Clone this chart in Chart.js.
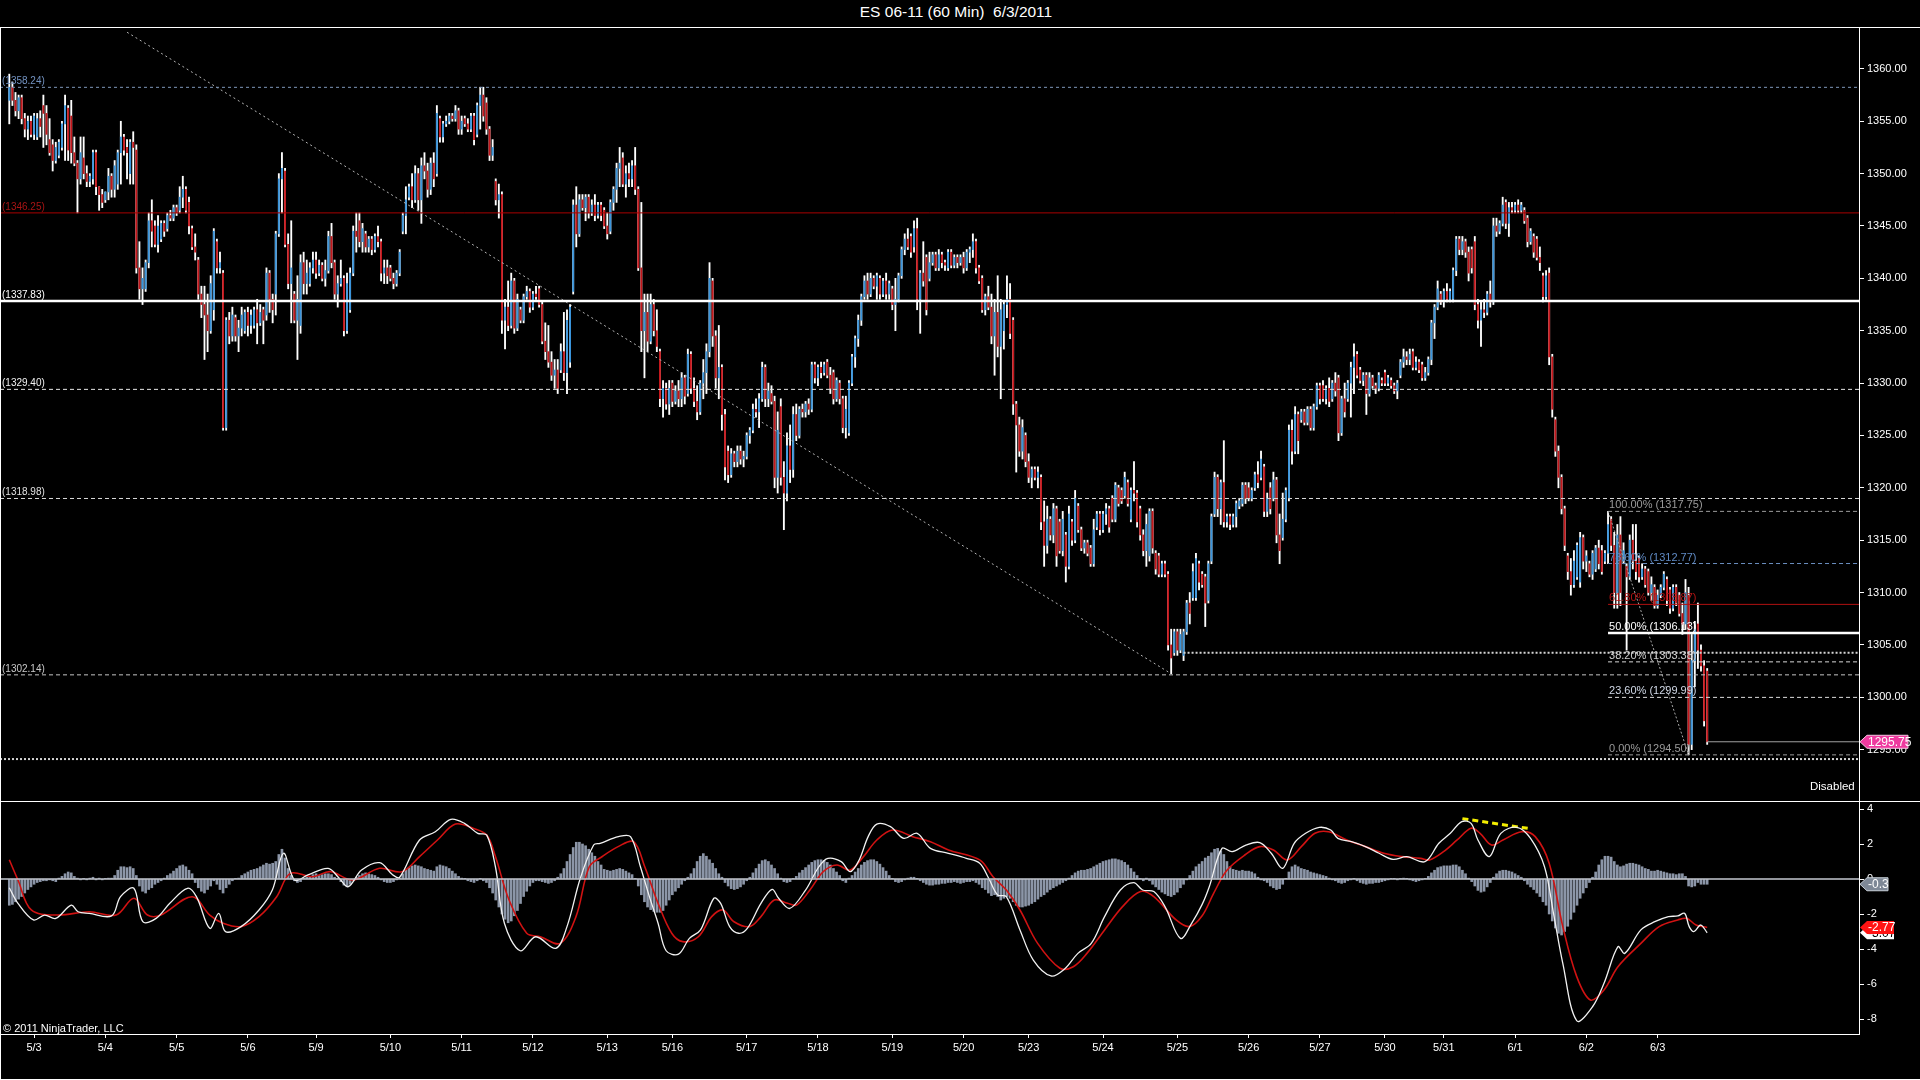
<!DOCTYPE html>
<html><head><meta charset="utf-8">
<script src="https://cdn.jsdelivr.net/npm/chart.js@4.4.1/dist/chart.umd.min.js"></script>
<style>
html,body{margin:0;padding:0;background:#000;width:1920px;height:1080px;overflow:hidden;font-family:"Liberation Sans",Arial,sans-serif;}
#title{position:absolute;left:0;top:3px;width:1912px;text-align:center;color:#fff;font-size:15.5px;line-height:18px;white-space:pre;}
.hl{position:absolute;left:0;width:1920px;height:1px;background:#fff;z-index:5;}
.vl{position:absolute;left:0;top:27px;width:1px;height:1053px;background:#fff;z-index:5;}
#priceWrap{position:absolute;left:0;top:27px;width:1920px;height:775px;}
#macdWrap{position:absolute;left:0;top:802px;width:1920px;height:278px;}
canvas{display:block}
#disabled{position:absolute;left:1810px;top:779px;color:#fff;font-size:11.5px;line-height:14px;z-index:6;}
#copy{position:absolute;left:3px;top:1021px;color:#fff;font-size:11px;line-height:14px;z-index:6;}
</style></head>
<body>
<div id="title">ES 06-11 (60 Min)  6/3/2011</div>
<div id="priceWrap"><canvas id="price" width="1920" height="775"></canvas></div>
<div id="macdWrap"><canvas id="macd" width="1920" height="278"></canvas></div>
<div class="hl" style="top:27px"></div>
<div class="hl" style="top:801px"></div>
<div class="hl" style="top:1079px"></div>
<div class="vl"></div>
<div id="disabled">Disabled</div>
<div id="copy">© 2011 NinjaTrader, LLC</div>
<script>
// ---------------- DATA ----------------
const firstBar = 3; // bar index of the first hourly bar
const dayLabels = ['5/3','5/4','5/5','5/6','5/9','5/10','5/11','5/12','5/13','5/16','5/17','5/18','5/19','5/20','5/23','5/24','5/25','5/26','5/27','5/30','5/31','6/1','6/2','6/3'];
const dayFirstBar = [11,34,57,80,102,126,149,172,196,217,241,264,288,311,332,356,380,403,426,447,466,489,512,535];
const priceTicks = [1295,1300,1305,1310,1315,1320,1325,1330,1335,1340,1345,1350,1355,1360];
const macdTicks = [4,2,0,-2,-4,-6,-8];

const barOpen = [
1357,1358.25,1357,1356,1357.25,1355.25,1354.25,1355,1353.75,1353.5,
1355.25,1356.5,1355.75,1353.25,1352.75,1351.25,1351.75,1352.5,1354.75,1356.25,
1355.5,1352,1351,1349.5,1351.5,1350,1349.25,1349.5,1352,1348.75,
1348,1347.5,1348.25,1349.75,1348.5,1349,1352,1353.5,1352.5,1350,
1353,1352.25,1341,1339,1339,1341.5,1345.5,1345,1343.25,1343.75,
1345.25,1344.75,1346,1345.75,1346.75,1346.5,1347.75,1348.5,1347.25,1344.75,
1343,1341.75,1338.5,1337.5,1336.5,1335,1337,1343.5,1341,1340.5,
1325.75,1336,1334.5,1336.25,1334.5,1335.25,1335,1336.75,1335.5,1335.5,
1337,1335.75,1337,1336.5,1340.5,1338,1338.5,1344.25,1349.5,1350.25,
1343.25,1339.5,1338.5,1336,1335.5,1341.5,1339.5,1339.5,1341,1341.75,
1340.5,1341.25,1340,1340.75,1344,1341.5,1338.5,1339.5,1340,1335,
1337,1340.5,1344.5,1345.5,1343.5,1344.25,1343,1343.75,1342.75,1344,
1343.5,1340.5,1341,1341,1340,1339.5,1340.5,1344.5,1346,1347.75,
1348.75,1347.5,1350,1347.5,1350.75,1350.25,1348.5,1351,1350,1355.25,
1353.5,1354.75,1355,1355.5,1355.25,1356,1354.25,1355.25,1354.75,1354.25,
1355.5,1353.75,1356.5,1357.5,1356.75,1354.25,1351.75,1349.25,1347.5,1348,
1336,1337.25,1335.5,1339.75,1335.25,1337,1336,1338.25,1338.75,1337.25,
1338.5,1339,1337.5,1334,1333,1332,1330.75,1331.25,1331.25,1333,
1331,1332,1338.75,1347,1344.25,1347.5,1346.75,1347.75,1346.25,1347,
1346,1347,1346.5,1345,1344.5,1347.25,1348.5,1350.5,1351.5,1349,
1350,1349.5,1350.75,1348.5,1341,1335,1336.75,1334,1337.5,1335,
1333,1328.5,1329.5,1328,1330,1328.25,1329.25,1328.5,1330.5,1329,
1332.75,1329.5,1328.25,1327.25,1330,1331,1333,1339.75,1334.5,1330.5,
1331.5,1327,1323.5,1321.25,1323.25,1322.5,1323.5,1322.75,1323,1325,
1325.5,1327.5,1327.25,1328.5,1331.5,1328.5,1329,1328.25,1321,1327.75,
1321,1319.5,1324,1321.75,1327,1325,1327.5,1327.25,1328,1327.5,
1331.75,1330.5,1331.5,1331,1332,1330.75,1331,1328.5,1330,1328.5,
1325.75,1325.25,1330,1332.5,1334.25,1336,1338.25,1339.75,1338.5,1340,
1339.25,1340,1338.5,1339.75,1338.5,1339,1337.5,1338,1340.25,1342.75,
1343.75,1344,1343,1344.75,1338,1340.5,1342,1340,1341.5,1342.25,
1341,1342.25,1341.5,1341,1342.5,1341.25,1342,1341.5,1342,1341,
1342.5,1342.75,1343.5,1341,1340,1337,1338.25,1337.25,1334.5,1336.75,
1333.5,1335,1337.5,1338,1336,1328,1326,1323.5,1325,1322.5,
1321,1321.75,1321,1321,1316.75,1314.5,1317,1315.5,1318,1316.75,
1314,1315.5,1312.5,1316.75,1315,1318.25,1316,1314.25,1314.75,1314.25,
1312.75,1316.25,1317.5,1316,1317.5,1318,1319,1317,1320,1319.75,
1319.25,1320.5,1317,1319.75,1319.5,1318,1315.5,1314,1313.5,1317.75,
1313.75,1313.5,1311.75,1312.75,1311.75,1305,1304.25,1306.25,1304.5,1304,
1306.25,1309,1309.5,1309.5,1312.75,1311.75,1311.5,1309.25,1313,1317.5,
1321,1318,1320.5,1316.75,1317.25,1316.5,1317.25,1318.25,1318.5,1320.25,
1320,1319,1320,1321.25,1321,1322,1317.75,1320,1319,1320.75,
1315.5,1315.25,1317,1319,1325.5,1323.5,1327,1326.5,1327.25,1326.25,
1327.5,1325.75,1327.75,1329.75,1329.75,1328.5,1329.5,1328.5,1330,1330.5,
1325.25,1328.5,1328.5,1330,1331.5,1332.75,1331.25,1330.25,1330.75,1329,
1330.5,1329.75,1329.5,1330.25,1331,1330,1330.25,1329.75,1329.25,1330.75,
1332,1332.5,1332.25,1333,1331.5,1332,1331.75,1330.5,1331,1332.25,
1335.75,1337.25,1338.5,1337.75,1338.75,1338,1338,1340.75,1343.75,1342.75,
1343.5,1342.5,1342.75,1343.5,1337.5,1336,1337,1336.75,1338.5,1337.75,
1345,1344.5,1345.25,1347.25,1345.25,1346.75,1346.5,1347,1346.5,1346.5,
1345.75,1343.5,1344,1343.75,1342,1340.25,1338.25,1340.5,1332.5,1326.5,
1323.5,1321,1318,1313.5,1312,1310.75,1311.5,1311,1315.25,1313,
1312.75,1311.75,1312.25,1314.25,1314,1313,1313.75,1317,1314.5,1310,
1315.5,1313,1312.5,1311.5,1315,1313,1313.25,1311.5,1312.25,1312,
1310,1310.5,1308.75,1309.75,1310.5,1311.25,1310.25,1308.5,1310.5,1309.75,
1308,1307,1309.75,1295.5,1303.5,1307,1304.5,1303,1302.5
];
const barHigh = [
1359.5,1358.75,1357.75,1357.5,1357.5,1355.75,1355.5,1355.5,1355.75,1355.75,
1356,1357.5,1356.5,1355.25,1353.25,1353,1353.25,1355,1357.5,1356.5,
1357,1353.5,1351.25,1353.5,1353.5,1350.75,1350,1352.25,1352.25,1348.75,
1348.5,1348.25,1350.5,1350,1351.25,1352.25,1355,1353.75,1353.25,1353.25,
1354,1352.75,1343.5,1341,1341.75,1346.25,1347.5,1345.5,1346,1345.5,
1345.5,1346.25,1346.5,1347,1347,1348.75,1349.75,1348.75,1347.75,1345,
1344.25,1342,1339.25,1339.25,1338.5,1340.25,1344.75,1343.75,1342.5,1340.75,
1336.25,1336.75,1337.25,1336.5,1336,1337.25,1337,1337.25,1337,1337.25,
1338,1337.5,1337.25,1341,1340.75,1338.5,1344.5,1350,1352,1350.5,
1344.25,1345.5,1338.75,1340.25,1342.25,1342.5,1341.75,1341.5,1342.5,1342.5,
1341.75,1341.5,1341.75,1344.5,1345.25,1341.75,1340.25,1341.75,1340.25,1340.5,
1341,1345,1346.25,1346.25,1345.25,1344.5,1344,1344,1344.25,1345,
1343.75,1341.75,1341.75,1341.25,1340.5,1340.75,1342.75,1346.25,1348.75,1349,
1350,1350.75,1350.5,1351.5,1352,1351,1351.5,1352,1356.5,1355.5,
1355,1355.5,1355.75,1355.75,1356.5,1356.25,1355.5,1355.5,1355.25,1355.75,
1355.75,1356.75,1358.25,1358.25,1357.25,1354.5,1353.25,1349.5,1349,1348.25,
1338,1339.75,1340.5,1340,1338.5,1337.25,1338.5,1339.25,1339,1338.75,
1339.25,1339.25,1337.75,1335.75,1335.5,1333,1332.25,1332.25,1333.75,1336.75,
1337,1337.5,1347.5,1348.75,1348,1348,1348,1348,1347.5,1348,
1347.25,1347.25,1346.75,1346.25,1347.5,1348.75,1351,1352.5,1352,1350.75,
1351,1351.25,1352.5,1348.75,1347.25,1338.5,1338.5,1338.5,1338,1337,
1333.25,1330.25,1330,1330.25,1330.25,1329.75,1330.25,1331,1330.75,1333.25,
1333,1330.5,1329.75,1330.25,1332.25,1333.75,1341.5,1340,1335,1335.5,
1331.75,1327.5,1324,1323.75,1323.5,1324,1324,1323.5,1325.25,1325.75,
1328,1328.5,1329,1332,1331.75,1330,1329.75,1328.75,1327.25,1328.5,
1322.5,1325.25,1326,1327.75,1328,1327.75,1328,1328.25,1328.5,1332,
1332,1331.75,1332,1332,1332.25,1331.5,1331.25,1330.5,1330.25,1328.75,
1328.75,1330.25,1332.75,1334.5,1336.5,1338.5,1340.25,1340.5,1340.5,1340.25,
1340.5,1340.25,1340,1340.5,1339.75,1339.25,1340,1340.5,1343,1344.25,
1344.75,1344.25,1345.5,1345.75,1340.75,1343.5,1342.25,1342.5,1342.5,1342.5,
1342.75,1342.5,1341.75,1342.75,1342.75,1342.25,1342.25,1342.25,1342.5,1342.75,
1343,1344.25,1343.75,1341.25,1340.25,1338.5,1339.25,1338.5,1338,1340.25,
1338,1337.75,1340.25,1339.5,1336.25,1328.25,1326.75,1326.5,1325.25,1323.25,
1322,1322,1322,1321.25,1318.75,1318.25,1317.25,1318.5,1318.25,1317,
1317.75,1315.75,1318.25,1317,1319.75,1318.5,1316.25,1315,1315,1314.5,
1317,1317.75,1317.75,1317.75,1318.5,1318.25,1319.25,1320.5,1320.25,1320,
1321.5,1320.75,1320,1322.5,1319.75,1318.25,1316,1317.5,1318,1318,
1314,1313.75,1313,1313,1312,1306.5,1306.5,1306.5,1306.5,1306.5,
1309.25,1310,1312.75,1313.75,1313,1312,1311.75,1313,1317.5,1321.5,
1321.25,1320.75,1324.5,1317.5,1317.5,1317.5,1318.75,1319,1320.5,1320.5,
1320.5,1320,1321.5,1322.5,1323.5,1322.25,1319.5,1320.5,1321.5,1321,
1317.5,1319.5,1320,1326,1326.5,1327.75,1327.25,1327.5,1327.5,1327.75,
1327.75,1328,1330,1330,1330.25,1329.75,1330.5,1330.25,1331,1330.75,
1328.75,1330,1330.25,1332,1333.75,1333,1331.5,1331,1331,1331,
1330.75,1330,1331,1330.5,1331.25,1330.75,1330.5,1330,1330.25,1332.25,
1333.25,1333,1333.25,1333.25,1332.5,1332.25,1332,1331.5,1332.5,1336,
1337.5,1339.75,1338.75,1339,1339.5,1339,1341,1344,1344,1344,
1343.75,1343,1343,1344,1338,1337.75,1338,1338.75,1339.75,1345.75,
1345.75,1345.5,1347.75,1347.5,1347.25,1347.25,1347.25,1347.5,1347.25,1346.75,
1346,1344.75,1344.25,1344,1343,1340.5,1340.75,1341,1332.75,1326.75,
1324,1321.25,1318.25,1313.75,1313.25,1314,1314.75,1315.75,1315.5,1314,
1313,1314,1314.5,1315,1314.5,1314,1317.75,1317.25,1315.75,1316.5,
1317.25,1314.75,1312.75,1315.5,1316.5,1316.5,1313.5,1312.75,1312.5,1312.25,
1311.5,1310.75,1310.25,1310.75,1312,1311.5,1310.5,1310.75,1310.75,1310,
1309,1311.25,1310.5,1306,1307.25,1309,1305,1303.5,1302.75
];
const barLow = [
1354.75,1356.5,1355.5,1355.25,1354.75,1353.5,1353.25,1353.5,1353.25,1353.25,
1353.5,1352.5,1352.75,1351.75,1350.25,1351,1351.5,1352.25,1351.25,1351.25,
1351,1350.75,1346.25,1349,1349.5,1348.75,1348.75,1349,1348,1346.5,
1346.75,1347.25,1347.5,1347.75,1347.75,1348.5,1349,1351.75,1349.5,1349,
1349,1340.5,1338,1337.5,1338.75,1341,1343,1343,1342.5,1343.5,
1344,1344.5,1345.5,1345.5,1346,1346.25,1346.75,1346.25,1344.25,1342.75,
1341.75,1338,1336.25,1332.25,1333,1334.75,1336,1340.5,1340.5,1325.5,
1325.5,1333.75,1334,1334,1333,1334.5,1334.75,1334.5,1334.75,1335.25,
1333.75,1335.5,1333.75,1336,1336.75,1335.75,1336.5,1344,1346.25,1343,
1339,1335.75,1335.75,1332.25,1334.75,1338.5,1338.5,1339.25,1340.5,1340,
1340.25,1339.75,1339.25,1340.5,1341,1338,1337.25,1339.25,1334.5,1334.75,
1336.75,1340.25,1342.5,1343,1342.5,1342.5,1342.5,1342.25,1342.5,1343,
1339.75,1339.5,1339.5,1339.75,1339,1339.25,1340.25,1344.25,1344.25,1347.5,
1346.75,1347.25,1346.5,1345.25,1349.5,1347.75,1348,1348.75,1349.75,1353,
1353,1354.5,1354.75,1355,1355,1353.75,1353.75,1354.5,1354,1354,
1352.75,1353.5,1354.25,1355,1353.75,1351.25,1351.25,1347,1345.75,1334.75,
1333.25,1335,1335.25,1334.75,1335,1335.75,1335.75,1338,1336.75,1337,
1338,1337.25,1333.75,1332.25,1331.5,1330.25,1329.5,1329,1331,1330.25,
1329,1331.5,1338.5,1343,1344,1346.5,1345.5,1345.75,1346,1345.5,
1345.75,1345.5,1344.75,1343.75,1344.25,1346.5,1347.25,1348.75,1348.75,1347.75,
1348.75,1348.75,1348,1340.75,1333,1330.5,1333,1333.75,1334.5,1333,
1327.75,1326.75,1327.5,1327,1327.75,1328,1327.75,1327.75,1328,1328.75,
1329,1327.75,1326.5,1327,1328.5,1329,1332.5,1333.5,1329.5,1328.5,
1325.5,1320.75,1320.5,1321,1322,1322,1322.25,1322,1322.75,1324.25,
1325.25,1326.75,1325.75,1328.25,1327.75,1327.75,1328,1320,1319.5,1320.25,
1316,1318.75,1320.5,1321,1324.5,1324.75,1326.75,1326.75,1327,1327.25,
1330,1329.75,1330.5,1330.75,1330.5,1329,1328,1328.25,1328,1325.25,
1324.75,1325,1329.75,1331.5,1333.5,1335.5,1338,1338,1338.25,1339,
1338,1338,1338.25,1338,1338,1337,1335,1337.75,1340,1342.25,
1342.75,1342,1342.5,1337,1334.75,1339.25,1336.5,1339.75,1341.25,1340.75,
1340.75,1341,1340.75,1340.75,1341,1341,1341,1341.25,1340.5,1340.75,
1341.5,1342,1340.5,1339.5,1336.75,1336.5,1337,1333.75,1330.75,1332.5,
1328.5,1333.25,1336.25,1334.25,1327,1321.5,1323,1322.75,1322,1320.5,
1320,1320.75,1320,1316,1312.5,1313.75,1315,1314.75,1312.5,1313.75,
1313.5,1311,1312.25,1314.5,1314.75,1315.75,1314,1313.75,1313.5,1312.5,
1312.5,1316,1315.5,1315.75,1316.5,1315.75,1316.75,1316.75,1318.25,1318.5,
1319,1318.25,1316.75,1318.75,1316.25,1315,1313.5,1312.5,1313,1313.75,
1311.75,1311.5,1311.5,1311.5,1304.5,1302.25,1304,1304,1304.25,1303.5,
1306,1307,1309.25,1309.25,1310.25,1310.5,1306.75,1309,1312.75,1317.25,
1317.25,1316.5,1316.25,1316.25,1316,1316.25,1316.25,1318,1318.25,1318.5,
1318.75,1318.75,1319.75,1320,1320.75,1317.25,1317.25,1317.5,1318.75,1314.75,
1312.75,1315,1316.75,1318.75,1322.25,1323.25,1323.25,1326.25,1326,1326,
1325.5,1325.5,1327.5,1328,1328.25,1328,1327.75,1328.25,1328.75,1324.5,
1325,1326.75,1328.25,1326.75,1329,1330.5,1330,1329.75,1327,1328.75,
1329.5,1329,1329.25,1329.75,1329.75,1329.75,1329.5,1329,1328.5,1330.5,
1331.5,1331.75,1331.75,1331.25,1331.25,1331,1330.25,1330.25,1330.75,1331.75,
1334.25,1337,1337.5,1337.25,1337.75,1337.75,1337.75,1340.25,1342.25,1342.25,
1342,1339.75,1340.5,1337,1335.25,1333.5,1336.25,1336.5,1337.25,1337.5,
1344,1344.25,1345,1344.75,1344,1346.25,1346.25,1346.25,1346.25,1345.25,
1343,1343.25,1342,1341.75,1340.75,1337.75,1338,1331.75,1326.75,1323,
1320,1317.5,1314,1311.25,1309.75,1310.5,1311.25,1310.5,1312.25,1312,
1311.5,1311.25,1312,1312.25,1311.75,1312.75,1312.75,1314,1308.5,1308.5,
1308.75,1312.75,1304.5,1311.25,1312.25,1311.25,1311,1311.25,1310.5,1309.75,
1309.25,1308.5,1308.5,1309.5,1310.25,1308.75,1308,1308.25,1308.75,1307.75,
1306,1306.5,1294.5,1295,1301,1302.75,1302.5,1297.25,1295.5
];
const barClose = [
1358.25,1357,1356,1357.25,1355.25,1354.25,1355,1353.75,1355.5,1355.25,
1354.5,1355.75,1353.75,1352,1351.25,1352.5,1353,1354.75,1356.5,1352.25,
1352,1351,1349.5,1352,1350,1349.25,1349.75,1352,1348.75,1348,
1347.25,1348.25,1349.75,1348.5,1350.75,1352,1353.5,1352.25,1352,1353,
1352.5,1341,1339,1340,1341.5,1345.5,1344.5,1343.25,1345,1345.25,
1344.5,1346,1345.75,1346.75,1346.25,1347.75,1348.5,1346.5,1345,1343,
1342.5,1338.5,1337.5,1336.5,1335,1339.5,1344.5,1341,1341.5,1325.75,
1336,1334.5,1336.5,1334.5,1335.25,1336.5,1336.75,1335.5,1336.5,1337,
1335.75,1336.75,1336,1340.5,1338,1337,1344.25,1349.5,1350.5,1343.25,
1339.5,1341,1336,1338,1341.5,1339.5,1340.5,1341,1341.75,1340.5,
1341.25,1340,1340.75,1344,1341.5,1338.5,1339.5,1340,1335,1339.5,
1340.5,1344.5,1344,1343.5,1344.75,1343,1343.75,1342.75,1344,1343.5,
1340.5,1341,1340.25,1340,1339.5,1340.5,1342.5,1346,1347.5,1348.75,
1347.5,1350,1347.5,1350.75,1350.25,1348.5,1351,1349.5,1355.75,1353.5,
1354.75,1355,1355.5,1355.25,1356,1354.25,1355,1354.75,1354.25,1355.5,
1353.25,1356.5,1357.5,1355.5,1354.25,1351.75,1352.5,1347.5,1348,1336,
1337.25,1335.5,1339.75,1335.25,1338,1336,1338.25,1338.75,1337.25,1338.5,
1338.25,1337.5,1334,1333,1332,1330.75,1331.25,1329.5,1333,1331,
1336,1337.25,1347,1344.25,1347.5,1346.75,1347.75,1346.25,1347,1346,
1347,1346,1345,1344.25,1347.25,1348.5,1350.5,1351,1349,1350,
1349.5,1350.75,1348.5,1341,1335,1336.75,1334,1337.5,1335,1333.5,
1328.5,1329.5,1328,1329.5,1328.25,1329.25,1328.5,1330.5,1328.75,1332.75,
1329.5,1328.25,1327.25,1330,1331,1333,1340,1334.5,1330.5,1331.5,
1327,1322,1321.25,1323.25,1322.5,1323.5,1322.75,1323,1325,1325.5,
1327.5,1327.25,1328.5,1331.5,1328.5,1329.25,1328.25,1321,1325.5,1321,
1319.5,1324,1321.75,1327,1325,1327.5,1327.25,1328,1327.5,1331.75,
1330.5,1331.5,1331,1331.75,1330.75,1329.5,1328.5,1330.25,1328.5,1325.75,
1327.5,1330,1332.5,1334.25,1336,1338.25,1339.75,1338.5,1340,1339.25,
1340.25,1338.5,1339.75,1338.5,1339.5,1337.5,1338,1340.25,1342.75,1343.75,
1343,1342.5,1344.75,1338,1340.5,1339.75,1337,1341.5,1342.25,1341,
1342.25,1341.5,1341.25,1342.5,1341.25,1342,1341.5,1342,1341,1342.5,
1342.75,1343.5,1341,1339.75,1337,1338.25,1337.25,1334.5,1336.75,1333.5,
1337,1337.5,1338,1334.75,1328,1326,1323.5,1325.75,1322.5,1321,
1321.75,1321,1321.5,1316.75,1314.5,1317,1315.5,1318,1313.5,1314,
1317,1312.5,1317.5,1315,1319,1316,1314.25,1314.75,1313.75,1312.75,
1316,1317.5,1316,1317.5,1318,1316.25,1317,1320.25,1318.5,1318.75,
1321,1318.5,1319.75,1319.5,1316.75,1315.5,1314,1316.5,1317.75,1314.25,
1312.25,1311.75,1312.75,1311.75,1305,1303.75,1306.25,1304.5,1306,1306.25,
1309,1308,1312,1313.25,1311,1310.75,1309,1312.75,1317.25,1321,
1318,1320.5,1316.75,1317.25,1316.5,1317.25,1318.5,1318.75,1320.25,1319,
1319,1319.75,1321.25,1320.5,1322.75,1317.75,1319,1318,1320.75,1315.5,
1314,1317,1319.75,1325.5,1323.5,1327,1324.5,1327.25,1326.25,1327.5,
1325.75,1327.75,1329.75,1328.5,1328.5,1329.5,1328.25,1330,1329.25,1325.25,
1328.5,1327.25,1330,1331.5,1332.5,1330.75,1330.25,1330.75,1329,1330.5,
1329.75,1329.5,1330.75,1330,1330,1330.5,1329.75,1329.25,1330,1332,
1332.5,1332.25,1332.75,1331.5,1332,1331.25,1330.5,1331,1332.25,1335.75,
1337.25,1339,1337.75,1338.75,1338,1338.75,1340.75,1343.75,1342.75,1343.5,
1342.5,1340.5,1341,1337.5,1336,1337,1336.75,1338.5,1337.75,1345,
1344.5,1345.25,1347,1345.25,1346.75,1346.5,1347,1346.5,1347,1345.5,
1343.5,1344.5,1342.5,1342,1341.5,1338.25,1340.25,1332.5,1327.5,1323.5,
1321,1318,1314.5,1312,1310.75,1313,1314.5,1315.25,1313,1313.5,
1311.75,1313.75,1314.25,1312.75,1312,1313.75,1316.5,1314.5,1310,1315.5,
1310,1314,1311.5,1315,1313,1312,1311.5,1312.25,1310.75,1310,
1310.75,1308.75,1309.75,1310.5,1311.75,1309.25,1308.5,1310.5,1309,1308,
1307,1310,1295.5,1303.5,1306.5,1304.5,1303,1297.75,1295.75
];

// horizontal price levels drawn on the chart
const levelValues = [1358.24, 1346.25, 1337.83, 1329.40, 1318.98, 1302.14];
const dottedLevels = [1294.10, 1304.25];
const dottedStartBar = [0, 382];
// trend line (bar index / price)
const trendX = [41, 378];
const trendY = [1363.5, 1302.25];
// Fibonacci retracement
const fibStartBar = 519, fibEndBar = 545;
const fibPercents = ['100.00%','78.60%','61.80%','50.00%','38.20%','23.60%','0.00%'];
const fibValues = [1317.75, 1312.77, 1308.87, 1306.13, 1303.38, 1299.99, 1294.50];
const lastPrice = 1295.75;

// MACD panel
const histValues = [
-1.5,-1.45,-1.3,-1.15,-1.0,-0.8,-0.6,-0.45,-0.3,-0.2,
-0.15,-0.1,-0.1,-0.05,-0.1,-0.15,0.05,0.15,0.3,0.4,
0.35,0.15,0.05,-0.05,0.02,-0.05,0.05,0.1,-0.05,0.05,
-0.05,0.02,0.05,0.05,0.2,0.5,0.7,0.7,0.65,0.7,
0.6,0.2,-0.4,-0.7,-0.8,-0.6,-0.5,-0.3,-0.2,-0.1,
0.05,0.2,0.3,0.45,0.6,0.75,0.8,0.7,0.5,0.3,
-0.2,-0.5,-0.7,-0.8,-0.6,-0.4,-0.1,-0.3,-0.6,-0.8,
-0.5,-0.3,-0.1,0.02,0.05,0.2,0.3,0.4,0.5,0.55,
0.6,0.7,0.8,0.9,0.85,0.9,1.0,1.4,1.7,1.2,
0.6,0.2,-0.1,-0.2,-0.15,0.02,0.1,0.15,0.25,0.3,
0.2,0.25,0.3,0.3,0.25,0.1,0.02,-0.15,-0.35,-0.45,
-0.3,-0.1,0.1,0.2,0.3,0.35,0.3,0.25,0.2,0.1,
-0.05,-0.15,-0.2,-0.2,-0.15,-0.05,0.05,0.3,0.5,0.65,
0.75,0.8,0.75,0.7,0.6,0.55,0.5,0.45,0.7,0.8,
0.75,0.7,0.6,0.45,0.3,0.15,0.05,0.02,-0.1,-0.15,
-0.2,-0.1,0.02,-0.1,-0.2,-0.5,-0.8,-1.2,-1.6,-2.0,
-2.3,-2.5,-2.4,-2.1,-1.8,-1.4,-1.0,-0.7,-0.4,-0.2,
-0.1,-0.1,-0.15,-0.2,-0.25,-0.2,-0.1,0.1,0.3,0.6,
1.0,1.4,1.8,2.1,2.1,2.0,1.9,1.7,1.5,1.3,
1.0,0.8,0.55,0.5,0.45,0.5,0.55,0.6,0.55,0.45,
0.35,0.25,0.02,-0.4,-0.9,-1.3,-1.6,-1.75,-1.85,-1.9,
-1.9,-1.8,-1.5,-1.2,-0.9,-0.7,-0.5,-0.3,-0.1,0.1,
0.3,0.6,1.0,1.3,1.45,1.3,1.1,0.9,0.6,0.3,
0.1,-0.2,-0.4,-0.55,-0.6,-0.55,-0.45,-0.3,-0.1,0.1,
0.35,0.6,0.85,1.05,1.1,1.0,0.8,0.6,0.3,0.05,
-0.15,-0.2,-0.15,0.02,0.15,0.35,0.5,0.65,0.8,0.95,
1.05,1.1,1.1,1.05,0.95,0.8,0.6,0.4,0.2,-0.1,
-0.2,0.05,0.2,0.4,0.6,0.8,0.95,1.05,1.1,1.1,
1.0,0.85,0.65,0.45,0.2,0.02,-0.15,-0.2,-0.15,-0.05,
0.05,0.1,0.1,0.02,-0.1,-0.2,-0.3,-0.35,-0.35,-0.3,
-0.3,-0.25,-0.25,-0.2,-0.2,-0.15,-0.2,-0.25,-0.2,-0.15,
-0.15,-0.1,-0.2,-0.3,-0.5,-0.6,-0.8,-0.95,-0.9,-1.0,
-1.2,-1.1,-1.0,-1.1,-1.3,-1.5,-1.6,-1.6,-1.55,-1.5,
-1.4,-1.3,-1.15,-1.0,-0.9,-0.75,-0.6,-0.5,-0.4,-0.3,
-0.2,-0.1,0.05,0.2,0.35,0.45,0.5,0.5,0.55,0.6,
0.7,0.8,0.9,1.0,1.05,1.1,1.15,1.15,1.1,1.05,
0.95,0.8,0.6,0.4,0.2,0.02,-0.1,0.05,-0.1,-0.3,
-0.45,-0.6,-0.75,-0.85,-0.95,-1.0,-0.9,-0.75,-0.5,-0.3,
-0.05,0.2,0.45,0.7,0.85,1.0,1.2,1.3,1.5,1.7,
1.75,1.6,1.4,1.0,0.7,0.55,0.5,0.45,0.5,0.45,
0.45,0.4,0.3,0.1,-0.05,-0.1,-0.2,-0.4,-0.5,-0.6,
-0.55,-0.3,0.02,0.4,0.7,0.8,0.7,0.6,0.55,0.5,
0.4,0.35,0.3,0.25,0.2,0.15,0.05,-0.05,-0.1,-0.2,
-0.25,-0.2,-0.1,-0.05,0.02,-0.1,-0.2,-0.25,-0.3,-0.25,
-0.25,-0.2,-0.2,-0.15,-0.1,-0.05,0.02,0.02,-0.05,0.02,
0.05,0.02,-0.05,-0.1,-0.15,-0.1,-0.05,0.02,0.15,0.35,
0.5,0.65,0.7,0.75,0.75,0.75,0.8,0.8,0.7,0.5,
0.3,0.05,-0.15,-0.4,-0.65,-0.75,-0.7,-0.45,-0.2,0.1,
0.3,0.45,0.5,0.5,0.45,0.4,0.3,0.2,0.1,-0.1,
-0.3,-0.45,-0.6,-0.8,-1.0,-1.3,-1.5,-2.0,-2.4,-2.8,
-3.1,-3.2,-3.0,-2.7,-2.3,-1.9,-1.5,-1.1,-0.8,-0.5,
-0.2,0.1,0.4,0.8,1.1,1.3,1.3,1.25,1.0,0.8,
0.7,0.75,0.85,0.9,0.9,0.85,0.8,0.7,0.6,0.55,
0.45,0.45,0.5,0.45,0.4,0.35,0.3,0.3,0.25,0.3,
0.3,0.15,-0.4,-0.45,-0.4,-0.2,-0.3,-0.3,-0.3
];
const macdX = [3,5.8,10.8,14.4,18,23,25.2,28.8,36,38.9,43.2,46.1,50.4,54.8,60.5,63.4,67.7,70.6,72.8,77.8,83.6,87.9,91.5,95.1,99.4,105.9,109.5,112.4,116.7,122.5,126.8,129,135.4,140.5,145.5,149.9,154.2,157.1,159.9,162.8,167.9,172.9,179.4,183,187.3,191.6,193.7,199.6,203.5,206.7,209.6,212.4,215,219,222.5,226.1,230.4,232.6,235.5,238.4,241.2,245.6,249.2,251.3,254.9,260,264.3,267.2,271.5,274.4,277.3,280.2,283,287.4,291.7,296,300.3,306.1,311.9,316.2,319.1,322,324.8,329.2,333.5,339.2,343.6,347.9,352.2,356.5,361.6,365.9,368.8,372.4,376,381,384.6,388,390.3,394.4,397.7,402.1,406.6,410.3,414,417.7,421.4,425.8,429.5,431.8,436.2,440.7,445.1,449.6,454,459.9,464.4,468.1,471.8,474.8,477,480.7,484.4,489.6,494,498.5,501.4,504.4,508.9,514,517.7,522.2,524.4,529.6,534.1,538.5,541.5,543.7,545.2,546.7,548.9,551];
const macdY = [-0.5,-1.39,-2.34,-2.06,-2.25,-1.49,-1.87,-1.96,-2.11,-1.01,-0.53,-2.44,-2.25,-1.39,-0.53,-1.01,-2.82,-1.96,-3.01,-2.72,-1.77,-0.63,1.47,-0.06,0.23,0.61,0.04,-0.44,0.51,0.93,0.23,0.1,2.23,2.7,3.41,3.18,2.61,2.51,0.7,-2.53,-4.1,-3.3,-3.96,-2.72,0.04,1.94,2.04,2.42,2.42,0.7,-1.01,-2.53,-4.1,-4.29,-3.39,-2.91,-1.1,-1.39,-2.72,-3.1,-2.82,-1.39,-0.59,-1.1,-1.68,-0.63,0.7,1.18,0.99,0.42,1.09,2.42,3.14,2.99,2.32,2.61,1.75,1.47,1.18,0.9,0.04,-0.91,-1.01,-2.91,-4.63,-5.54,-5.14,-4.25,-3.68,-2.15,-0.63,-0.21,-0.63,-0.72,-1.58,-3.39,-2.53,-1.45,-0.44,1.75,1.56,1.94,2.08,1.47,0.61,2.04,2.61,2.95,2.8,2.32,2.13,1.85,1.47,1.12,1.28,0.99,2.04,2.61,3.28,3.18,2.23,1.28,2.61,2.95,2.32,0.7,-1.96,-4.82,-8.1,-7.3,-5.96,-3.87,-4.25,-2.91,-2.44,-2.15,-2.11,-1.96,-2.72,-3.01,-2.63,-3.07];
const signalX = [3,5.8,10.1,18.7,28.8,37.5,43.2,47.6,51.9,62,67.7,72,77.8,83.6,89.3,93.7,100.9,106.6,113.8,122.5,129.7,135.4,141.2,147,152.7,157.1,159.9,164.3,170,174.4,180.8,185.9,190.2,194.5,199.5,204.5,208.1,212.4,216.8,220.4,225.4,229.7,233.3,236.9,242,245.6,249.9,254.2,257.1,261.4,265.7,270.1,274.4,278.7,283,288.1,294.6,300.3,306.1,316.2,320.5,324.8,329.2,334.9,342.1,346.4,350.8,356.5,362.3,368.1,372.4,379.6,383.9,388,391.7,396,402,406.6,411,415.5,420,424.4,428.8,434.7,440.7,446.6,452.5,458.5,461.4,465.9,470.3,474.8,477.7,481.4,485.1,491.1,495.5,500,504.4,508.9,513.3,517.7,522.2,529.6,535.5,541.5,544.4,547.4,551];
const signalY = [1.1,-0.06,-1.77,-2.06,-1.87,-2.06,-1.1,-2.06,-2.06,-1.01,-2.06,-2.53,-2.72,-2.15,-1.01,0.32,0.13,0.42,-0.06,0.61,0.42,1.28,2.23,3.14,2.9,2.51,1.28,-1.2,-3.1,-3.3,-3.68,-2.15,0.7,1.3,1.85,2.13,0.7,-1.39,-3.1,-3.58,-3.3,-2.15,-1.77,-2.44,-2.72,-2.15,-1.2,-1.39,-1.49,-0.63,0.42,0.8,0.51,1.28,2.23,2.8,2.42,2.13,1.66,1.09,0.13,-0.63,-1.77,-3.68,-5.1,-5.01,-4.25,-2.91,-1.58,-0.72,-1.01,-2.34,-2.72,-2.1,-0.82,0.5,1.4,1.85,1.66,1.09,1.85,2.61,2.7,2.23,1.85,1.47,1.28,1.18,1.09,1.56,2.23,2.9,2.61,1.94,2.23,2.7,2.42,0.9,-2.72,-5.58,-6.91,-6.34,-5.01,-3.68,-2.72,-2.34,-2.25,-2.63,-2.77];
const yellowX = [472, 494];
const yellowY = [3.45, 2.87];
const lastMacd = -3.07, lastSignal = -2.77, lastDiff = -0.3;

// ---------------- STYLES ----------------
const FONT = '"Liberation Sans", Arial, sans-serif';
Chart.defaults.font.family = FONT;
Chart.defaults.color = '#ffffff';
const UP = '#3a95dc', DOWN = '#c4161b';
const levelStyles = [
  {line:'#7d96b8', dash:[3,3], w:1, label:'#7393c2'},
  {line:'#a80000', dash:[], w:1, label:'#a81414'},
  {line:'#ffffff', dash:[], w:2.5, label:'#ffffff'},
  {line:'#e6e6e6', dash:[4,3], w:1, label:'#f0f0f0'},
  {line:'#d8d8d8', dash:[4,3], w:1, label:'#e0e0e0'},
  {line:'#c4c4c4', dash:[4,3], w:1, label:'#c8c8c8'}
];
const fibStyles = [
  {line:'#9a9a9a', dash:[4,3], w:1, label:'#9a9a9a'},
  {line:'#6a8fc0', dash:[4,3], w:1, label:'#5f8ac4'},
  {line:'#b01010', dash:[], w:1, label:'#b01414'},
  {line:'#ffffff', dash:[], w:2.5, label:'#ffffff'},
  {line:'#d8d8d8', dash:[4,3], w:1, label:'#cfcfcf'},
  {line:'#dcdcdc', dash:[4,3], w:1, label:'#d0d8e6'},
  {line:'#9a9a9a', dash:[4,3], w:1, label:'#9a9a9a'}
];

function seg(x0, y0, x1, y1, color, dash, width, yAxisID) {
  return {type:'line', data:[{x:x0,y:y0},{x:x1,y:y1}], borderColor:color, borderDash:dash,
    borderWidth:width, pointRadius:0, fill:false, tension:0, order:0, yAxisID, clip:0};
}
function noPadY(s){ s.width = 61; s.paddingTop = 0; s.paddingBottom = 0; }

// ---------------- PRICE CHART ----------------
const XMIN = 0, XMAX = 600;
const bodies = barOpen.map((o,i)=>({x:firstBar+i, y:[o, barClose[i]]}));
const bodyColors = barOpen.map((o,i)=> barClose[i] >= o ? UP : DOWN);
const wicks = barLow.map((l,i)=>({x:firstBar+i, y:[l, barHigh[i]]}));

const priceSets = [];
levelValues.forEach((v,i)=>{ const s=levelStyles[i]; priceSets.push(seg(XMIN,v,XMAX,v,s.line,s.dash,s.w,'y')); });
dottedLevels.forEach((v,i)=>{ priceSets.push(seg(dottedStartBar[i],v,XMAX,v,'#d4d4d4',[2,2],2,'y')); });
fibValues.forEach((v,i)=>{ const s=fibStyles[i]; priceSets.push(seg(fibStartBar,v,XMAX,v,s.line,s.dash,s.w,'y')); });
priceSets.push(seg(trendX[0],trendY[0],trendX[1],trendY[1],'#b4b4b4',[2,3],1,'y'));
priceSets.push(seg(fibStartBar,fibValues[0],fibEndBar,fibValues[fibValues.length-1],'#a8a8a8',[2,2],1,'y'));
priceSets.push(seg(firstBar+barClose.length-1,lastPrice,XMAX,lastPrice,'#a0a0a0',[],1,'y'));
priceSets.push({type:'bar', data:bodies, backgroundColor:bodyColors, barThickness:1.2, grouped:false, order:1, yAxisID:'y'});
priceSets.push({type:'bar', data:wicks, backgroundColor:'#ffffff', barThickness:1.2, grouped:false, order:2, yAxisID:'y'});

function tag(ctx, xLeft, yc, w, h, fill, stroke, text, textColor) {
  ctx.save();
  ctx.beginPath();
  ctx.moveTo(xLeft, yc);
  ctx.lineTo(xLeft + 7, yc - h/2);
  ctx.lineTo(xLeft + w, yc - h/2);
  ctx.lineTo(xLeft + w, yc + h/2);
  ctx.lineTo(xLeft + 7, yc + h/2);
  ctx.closePath();
  ctx.fillStyle = fill; ctx.fill();
  if (stroke) { ctx.strokeStyle = stroke; ctx.lineWidth = 1; ctx.stroke(); }
  ctx.fillStyle = textColor;
  ctx.font = '12px ' + FONT;
  ctx.textBaseline = 'middle'; ctx.textAlign = 'left';
  ctx.fillText(text, xLeft + 8, yc + 0.5);
  ctx.restore();
}

const priceDecor = {
  id:'priceDecor',
  afterDraw(chart) {
    const {ctx, chartArea, scales:{x, y}} = chart;
    ctx.save();
    ctx.textBaseline = 'alphabetic'; ctx.textAlign = 'left';
    ctx.font = '10px ' + FONT;
    levelValues.forEach((v,i)=>{
      ctx.fillStyle = levelStyles[i].label;
      ctx.fillText('(' + v.toFixed(2) + ')', 2, y.getPixelForValue(v) - 3);
    });
    ctx.font = '11px ' + FONT;
    fibValues.forEach((v,i)=>{
      ctx.fillStyle = fibStyles[i].label;
      ctx.fillText(fibPercents[i] + ' (' + v.toFixed(2) + ')', x.getPixelForValue(fibStartBar) + 1, y.getPixelForValue(v) - 3);
    });
    ctx.restore();
    tag(ctx, chartArea.right + 1, y.getPixelForValue(lastPrice), 48, 13, '#ee3a9f', '#f8c8e4', lastPrice.toFixed(2), '#ffffff');
  }
};

new Chart(document.getElementById('price'), {
  type:'bar',
  data:{datasets:priceSets},
  options:{
    responsive:false, animation:false, devicePixelRatio:1,
    layout:{padding:0},
    plugins:{legend:{display:false}, tooltip:{enabled:false}},
    scales:{
      x:{type:'linear', min:XMIN, max:XMAX, offset:false, display:false},
      y:{type:'linear', position:'right', min:1290, max:1364,
        afterBuildTicks:s=>{ s.ticks = priceTicks.map(v=>({value:v})); },
        afterFit:noPadY,
        border:{display:true, color:'#ffffff', width:1},
        grid:{drawOnChartArea:false, drawTicks:true, tickLength:5, color:'#ffffff'},
        ticks:{color:'#ffffff', font:{size:11, family:FONT}, padding:3, callback:v=>Number(v).toFixed(2)}
      }
    }
  },
  plugins:[priceDecor]
});

// ---------------- MACD CHART ----------------
const macdSets = [
  seg(XMIN,0,XMAX,0,'#c4c8d0',[],1.5,'y'),
  {type:'line', data:macdX.map((x,i)=>({x, y:macdY[i]})), borderColor:'#f2f2f2', borderWidth:1.3, pointRadius:0, tension:0.35, order:0, yAxisID:'y'},
  {type:'line', data:signalX.map((x,i)=>({x, y:signalY[i]})), borderColor:'#d01212', borderWidth:1.6, pointRadius:0, tension:0.35, order:0, yAxisID:'y'},
  seg(yellowX[0],yellowY[0],yellowX[1],yellowY[1],'#f4ee00',[6,4],3,'y'),
  {type:'bar', data:histValues.map((v,i)=>({x:firstBar+i, y:[0,v]})), backgroundColor:'#8c96a8', barThickness:2, grouped:false, order:3, yAxisID:'y'}
];
const macdDecor = {
  id:'macdDecor',
  afterDraw(chart) {
    const {ctx, chartArea, scales:{y}} = chart;
    tag(ctx, chartArea.right + 1, y.getPixelForValue(lastDiff), 28, 13, '#7e8896', '#c8d0d8', lastDiff.toFixed(1), '#ffffff');
    tag(ctx, chartArea.right + 1, y.getPixelForValue(lastMacd), 34, 13, '#ffffff', null, lastMacd.toFixed(2), '#000000');
    tag(ctx, chartArea.right + 1, y.getPixelForValue(lastSignal), 34, 13, '#ff1414', null, lastSignal.toFixed(2), '#ffffff');
  }
};
new Chart(document.getElementById('macd'), {
  type:'bar',
  data:{datasets:macdSets},
  options:{
    responsive:false, animation:false, devicePixelRatio:1,
    layout:{padding:0},
    plugins:{legend:{display:false}, tooltip:{enabled:false}},
    scales:{
      x:{type:'linear', min:XMIN, max:XMAX, offset:false, position:'bottom',
        afterBuildTicks:s=>{ s.ticks = dayFirstBar.map(v=>({value:v})); },
        afterFit:s=>{ s.height = 46; s.paddingLeft = 0; s.paddingRight = 0; },
        border:{display:true, color:'#ffffff', width:1},
        grid:{drawOnChartArea:false, drawTicks:true, tickLength:4, color:'#ffffff', offset:false},
        ticks:{color:'#ffffff', font:{size:11, family:FONT}, padding:3, autoSkip:false, maxRotation:0,
          callback:(v,i)=>dayLabels[i]}
      },
      y:{type:'linear', position:'right', min:-8.857, max:4.4,
        afterBuildTicks:s=>{ s.ticks = macdTicks.map(v=>({value:v})); },
        afterFit:noPadY,
        border:{display:true, color:'#ffffff', width:1},
        grid:{drawOnChartArea:false, drawTicks:true, tickLength:5, color:'#ffffff'},
        ticks:{color:'#ffffff', font:{size:11, family:FONT}, padding:3, callback:v=>String(v)}
      }
    }
  },
  plugins:[macdDecor]
});
</script>
</body></html>
